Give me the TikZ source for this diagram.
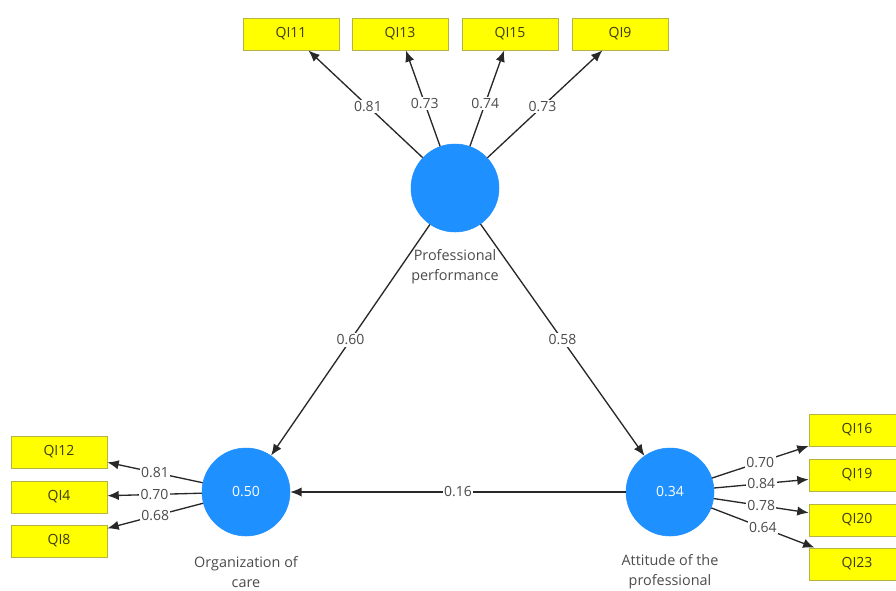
\documentclass[tikz,border=0pt]{standalone}
\usepackage{fontspec}
\setmainfont{Open Sans}
\usetikzlibrary{arrows.meta}

\definecolor{lvblue}{RGB}{30,144,255}
\definecolor{mvyellow}{RGB}{255,255,0}
\definecolor{mvedge}{RGB}{180,180,70}
\definecolor{pathgray}{RGB}{40,40,40}
\definecolor{lblgray}{RGB}{75,75,75}

\tikzset{
  latent/.style={circle,fill=lvblue,draw=lvblue,minimum size=66pt,inner sep=0pt,text=white,font=\fontsize{10.5}{12}\selectfont},
  indicator/.style={rectangle,fill=mvyellow,draw=mvedge,line width=0.6pt,minimum width=72pt,minimum height=24pt,inner sep=0pt,text={rgb,255:red,60;green,60;blue,20},font=\fontsize{10.5}{12}\selectfont},
  caption/.style={align=center,text=lblgray,font=\fontsize{10.8}{15}\selectfont},
  link/.style={draw=pathgray,line width=1pt,-{Latex[length=8.5pt,width=7pt]}},
  coef/.style={fill=white,inner sep=1pt,text=lblgray,font=\fontsize{10.5}{12}\selectfont}
}

\begin{document}
\begin{tikzpicture}[x=0.75pt,y=0.75pt,yscale=-1,xscale=1]
\useasboundingbox (0,0) rectangle (896,590);

% Latent variables
\node [latent] (pp)  at (455,188) {};
\node [latent] (org) at (246,492) {0.50};
\node [latent] (att) at (670,492) {0.34};

% Text Node
\node [caption] (ppl)  at (455,267) {Professional\\performance};
% Text Node
\node [caption] (orgl) at (246,572) {Organization of\\care};
% Text Node
\node [caption] (attl) at (670,572) {Attitude of the\\professional};

% Indicators, top
\node [indicator] (qi11) at (291,34) {QI11};
\node [indicator] (qi13) at (400,34) {QI13};
\node [indicator] (qi15) at (510,34) {QI15};
\node [indicator] (qi9)  at (620,34) {QI9};

% Indicators, left
\node [indicator] (qi12) at (59,452) {QI12};
\node [indicator] (qi4)  at (59,497) {QI4};
\node [indicator] (qi8)  at (59,541) {QI8};

% Indicators, right
\node [indicator] (qi16) at (857,430) {QI16};
\node [indicator] (qi19) at (857,475) {QI19};
\node [indicator] (qi20) at (857,520) {QI20};
\node [indicator] (qi23) at (857,564) {QI23};

% Outer loadings
\draw [link] (pp) -- node [coef,pos=0.48] {0.81} (qi11);
\draw [link] (pp) -- node [coef,pos=0.45] {0.73} (qi13);
\draw [link] (pp) -- node [coef,pos=0.45] {0.74} (qi15);
\draw [link] (pp) -- node [coef,pos=0.48] {0.73} (qi9);

\draw [link] (org) -- node [coef,pos=0.5] {0.81} (qi12);
\draw [link] (org) -- node [coef,pos=0.5] {0.70} (qi4);
\draw [link] (org) -- node [coef,pos=0.5] {0.68} (qi8);

\draw [link] (att) -- node [coef,pos=0.5] {0.70} (qi16);
\draw [link] (att) -- node [coef,pos=0.5] {0.84} (qi19);
\draw [link] (att) -- node [coef,pos=0.5] {0.78} (qi20);
\draw [link] (att) -- node [coef,pos=0.5] {0.64} (qi23);

% Path coefficients
\draw [link] (pp)  -- node [coef,pos=0.5] {0.60} (org);
\draw [link] (pp)  -- node [coef,pos=0.5] {0.58} (att);
\draw [link] (att) -- node [coef,pos=0.5] {0.16} (org);

\end{tikzpicture}
\end{document}
